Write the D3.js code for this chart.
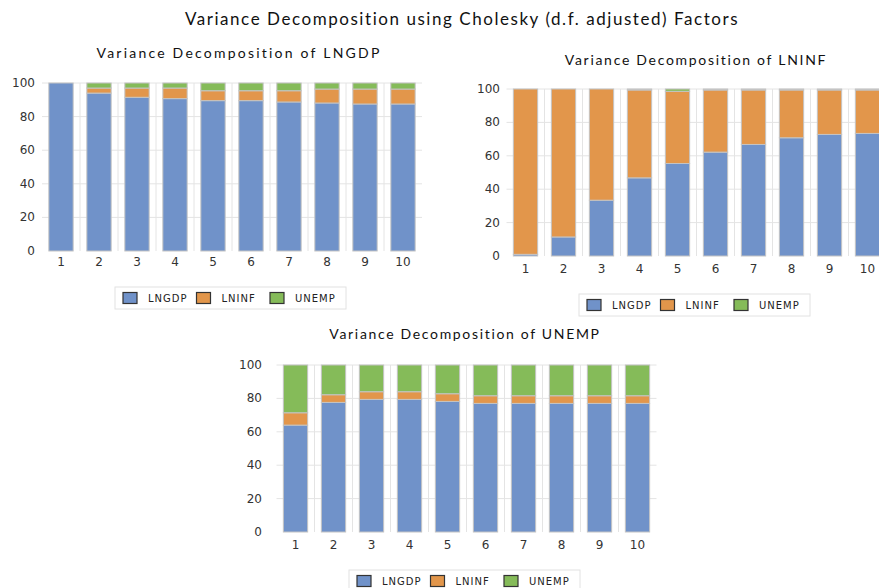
<!DOCTYPE html>
<html>
<head>
<meta charset="UTF-8">
<title>Variance Decomposition</title>
<style>
    body { margin: 0; background: #fff; }
    text { font-family: "DejaVu Sans", Verdana, sans-serif; fill: #333; }
    .grid line { stroke: #e4e4e4; stroke-width: 1; }
    .tick-label { font-size: 12px; }
    .sub-title { font-family: Lato, "Open Sans", sans-serif; font-size: 14px; fill: #111; }
    .main-title { font-family: Lato, "Open Sans", sans-serif; font-size: 17px; fill: #111; }
    .legend text { font-size: 10px; letter-spacing: 1px; fill: #222; }
</style>
</head>
<body>
<script src="https://d3js.org/d3.v7.min.js"></script>
<svg id="chart" width="879" height="588"></svg>
<script>
    // periods (x categories) and shock names
    var periods = ["1", "2", "3", "4", "5", "6", "7", "8", "9", "10"];
    var shocks = ["LNGDP", "LNINF", "UNEMP"];
    var yTicks = [0, 20, 40, 60, 80, 100];

    // Variance decomposition of LNGDP
    var gdp_LNGDP = [100, 94.0, 91.5, 90.7, 89.5, 89.5, 88.7, 88.1, 87.5, 87.5];
    var gdp_LNINF = [0, 3.0, 5.5, 6.3, 5.9, 5.9, 6.7, 8.3, 8.9, 8.9];
    var gdp_UNEMP = [0, 3.0, 3.0, 3.0, 4.6, 4.6, 4.6, 3.6, 3.6, 3.6];

    // Variance decomposition of LNINF
    var inf_LNGDP = [1.0, 11.4, 33.4, 46.8, 55.4, 62.2, 66.8, 70.8, 72.8, 73.4];
    var inf_LNINF = [99.0, 88.6, 66.6, 52.6, 43.2, 37.2, 32.6, 28.6, 26.6, 26.0];
    var inf_UNEMP = [0, 0, 0, 0.6, 1.4, 0.6, 0.6, 0.6, 0.6, 0.6];

    // Variance decomposition of UNEMP
    var un_LNGDP = [64.0, 77.6, 79.4, 79.4, 78.2, 77.0, 77.0, 77.0, 77.0, 77.0];
    var un_LNINF = [7.4, 4.6, 4.6, 4.6, 4.6, 4.6, 4.6, 4.6, 4.6, 4.6];
    var un_UNEMP = [28.6, 17.8, 16.0, 16.0, 17.2, 18.4, 18.4, 18.4, 18.4, 18.4];

    var colors = d3.scaleOrdinal().domain(shocks).range(["#7092c9", "#e2964b", "#85bb59"]);

    var svg = d3.select("#chart");

    // spread a title's letters so it spans the same width as in the original
    function fitWidth(sel, target) {
        var n = sel.text().length;
        var w = sel.node().getComputedTextLength();
        if (w > 0 && n > 1) sel.style("letter-spacing", ((target - w) / (n - 1)).toFixed(2) + "px");
    }

    var mainTitle = svg.append("text")
        .attr("class", "main-title")
        .attr("x", 462).attr("y", 25)
        .attr("text-anchor", "middle")
        .text("Variance Decomposition using Cholesky (d.f. adjusted) Factors");
    fitWidth(mainTitle, 553);

    function table(a, b, c) {
        return periods.map(function (p, i) {
            return { period: p, LNGDP: a[i], LNINF: b[i], UNEMP: c[i] };
        });
    }

    function drawChart(cfg) {
        var g = svg.append("g");
        var x = d3.scaleBand().domain(periods).range([cfg.x0, cfg.x1])
            .paddingInner(0.36).paddingOuter(0.18);
        var y = d3.scaleLinear().domain([0, 100]).range([cfg.y0, cfg.y1]);

        var t = g.append("text")
            .attr("class", "sub-title")
            .attr("x", cfg.titleX).attr("y", cfg.titleY)
            .attr("text-anchor", "middle")
            .text(cfg.title);
        fitWidth(t, cfg.titleW);

        // gridlines
        var grid = g.append("g").attr("class", "grid");
        grid.selectAll(".h").data(yTicks.slice(1)).enter().append("line")
            .attr("x1", cfg.x0).attr("x2", cfg.x1)
            .attr("y1", function (d) { return y(d); })
            .attr("y2", function (d) { return y(d); });
        var step = x.step();
        grid.selectAll(".v").data(periods.slice(1)).enter().append("line")
            .attr("x1", function (d) { return x(d) - (step - x.bandwidth()) / 2; })
            .attr("x2", function (d) { return x(d) - (step - x.bandwidth()) / 2; })
            .attr("y1", y(100)).attr("y2", y(0));

        // stacked bars
        var stacked = d3.stack().keys(shocks)(cfg.data);
        g.selectAll(".layer").data(stacked).enter().append("g")
            .attr("fill", function (d) { return colors(d.key); })
            .selectAll("rect").data(function (d) { return d; }).enter().append("rect")
            .attr("x", function (d) { return x(d.data.period); })
            .attr("width", x.bandwidth())
            .attr("y", function (d) { return y(d[1]); })
            .attr("height", function (d) { return y(d[0]) - y(d[1]); })
            .attr("stroke", "#c4c4c4")
            .attr("stroke-width", function (d) { return d[1] - d[0] > 0.05 ? 1 : 0; });

        // axes labels
        g.selectAll(".yl").data(yTicks).enter().append("text")
            .attr("class", "tick-label")
            .attr("x", cfg.yLabelX)
            .attr("y", function (d) { return y(d) + 4; })
            .attr("text-anchor", "end")
            .text(function (d) { return d; });
        g.selectAll(".xl").data(periods).enter().append("text")
            .attr("class", "tick-label")
            .attr("x", function (d) { return x(d) + x.bandwidth() / 2; })
            .attr("y", cfg.y0 + cfg.xLabelDy)
            .attr("text-anchor", "middle")
            .text(function (d) { return d; });

        // legend
        var lg = g.append("g").attr("class", "legend")
            .attr("transform", "translate(" + cfg.legX + "," + cfg.legY + ")");
        lg.append("rect")
            .attr("width", 231).attr("height", 22)
            .attr("fill", "#fff").attr("stroke", "#e2e2e2");
        var item = lg.selectAll(".item").data(shocks).enter().append("g")
            .attr("transform", function (d, i) { return "translate(" + (8 + i * 73.5) + ",0)"; });
        item.append("rect")
            .attr("y", 5.5).attr("width", 14).attr("height", 11)
            .attr("fill", function (d) { return colors(d); })
            .attr("stroke", "#333").attr("stroke-width", 1.2);
        item.append("text")
            .attr("x", 25).attr("y", 15)
            .text(function (d) { return d; });
    }

    drawChart({
        title: "Variance Decomposition of LNGDP", titleX: 239, titleY: 58, titleW: 283,
        data: table(gdp_LNGDP, gdp_LNINF, gdp_UNEMP),
        x0: 42, x1: 422, y0: 251, y1: 83, yLabelX: 35, xLabelDy: 15,
        legX: 115, legY: 287
    });
    drawChart({
        title: "Variance Decomposition of LNINF", titleX: 696, titleY: 65, titleW: 261,
        data: table(inf_LNGDP, inf_LNINF, inf_UNEMP),
        x0: 506.5, x1: 886.5, y0: 256, y1: 89, yLabelX: 500, xLabelDy: 17,
        legX: 579, legY: 294
    });
    drawChart({
        title: "Variance Decomposition of UNEMP", titleX: 465, titleY: 339, titleW: 270,
        data: table(un_LNGDP, un_LNINF, un_UNEMP),
        x0: 276.5, x1: 656.5, y0: 532, y1: 365, yLabelX: 262, xLabelDy: 17,
        legX: 349, legY: 570
    });
</script>
</body>
</html>
